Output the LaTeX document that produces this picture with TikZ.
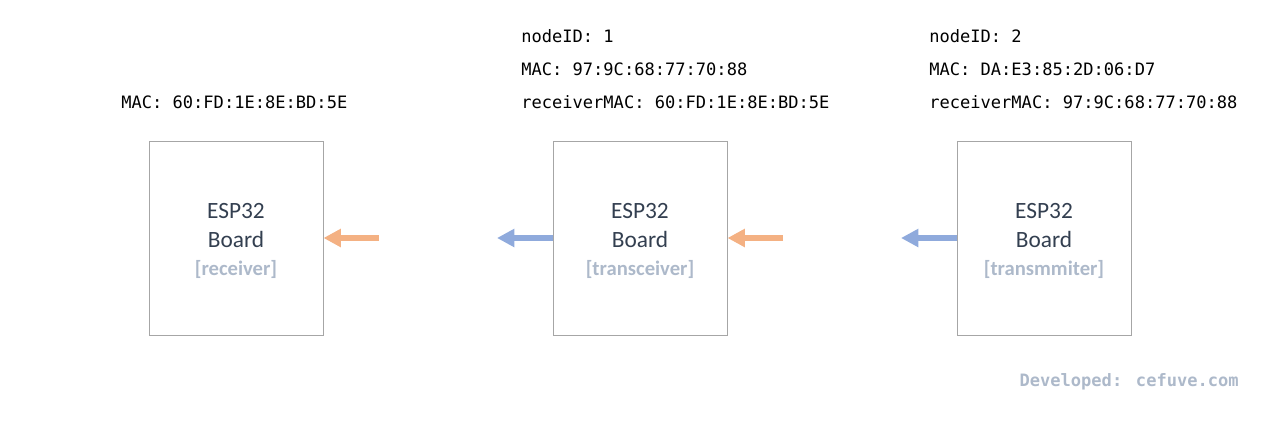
\documentclass[tikz,border=0pt]{standalone}
\usepackage{fontspec}
\setmainfont{Carlito}
\newfontfamily\monof{DejaVu Sans Mono}
\usetikzlibrary{arrows.meta}
\definecolor{boxline}{HTML}{A6A6A6}
\definecolor{dtext}{HTML}{333F50}
\definecolor{ltext}{HTML}{ADB9CA}
\definecolor{orangeA}{HTML}{F4B183}
\definecolor{blueA}{HTML}{8FAADC}
\tikzset{
  board/.style={draw=boxline, line width=0.75pt, minimum width=130.5pt, minimum height=145.5pt, inner sep=0pt},
  main/.style={anchor=base, text=dtext, font=\fontsize{17.5}{20}\selectfont, inner sep=0pt},
  role/.style={anchor=base, text=ltext, font=\fontsize{15.5}{18}\selectfont\bfseries, inner sep=0pt},
  info/.style={anchor=base west, text=black, font=\monof\fontsize{12.8}{15}\selectfont, inner sep=0pt},
  flow/.style={line width=4.5pt, -{Triangle[length=13pt,width=13pt]}},
}
\begin{document}
\begin{tikzpicture}[x=0.75pt,y=-0.75pt]
\useasboundingbox (0,0) rectangle (1280,421);
% boxes
\node[board] (b1) at (236,238) {};
\node[board] (b2) at (640,238) {};
\node[board] (b3) at (1044,238) {};
% box texts
\foreach \n/\x/\r in {t1/236/receiver, t2/640/transceiver, t3/1044/transmmiter}{
  \node[main] (\n a) at (\x,218) {ESP32};
  \node[main] (\n b) at (\x,247) {Board};
  \node[role] (\n c) at (\x,275) {[\r]};
}
% arrows
\coordinate (o1) at (379,238);
\coordinate (o2) at (783,238);
\coordinate (u1) at (497,238);
\coordinate (u2) at (901,238);
\draw[flow, orangeA] (o1) -- (b1.east);
\draw[flow, blueA] (b2.west) -- (u1);
\draw[flow, orangeA] (o2) -- (b2.east);
\draw[flow, blueA] (b3.west) -- (u2);
% info labels
\node[info] (m1) at (121,108) {MAC: 60:FD:1E:8E:BD:5E};
\node[info] (n2) at (521,42) {nodeID: 1};
\node[info] (m2) at (521,75) {MAC: 97:9C:68:77:70:88};
\node[info] (r2) at (521,108) {receiverMAC: 60:FD:1E:8E:BD:5E};
\node[info] (n3) at (929,42) {nodeID: 2};
\node[info] (m3) at (929,75) {MAC: DA:E3:85:2D:06:D7};
\node[info] (r3) at (929,108) {receiverMAC: 97:9C:68:77:70:88};
\node[info, anchor=base east, text=ltext, font=\monof\fontsize{12.8}{15}\selectfont\bfseries] (dev) at (1239,386) {Developed: cefuve.com};
\end{tikzpicture}
\end{document}
